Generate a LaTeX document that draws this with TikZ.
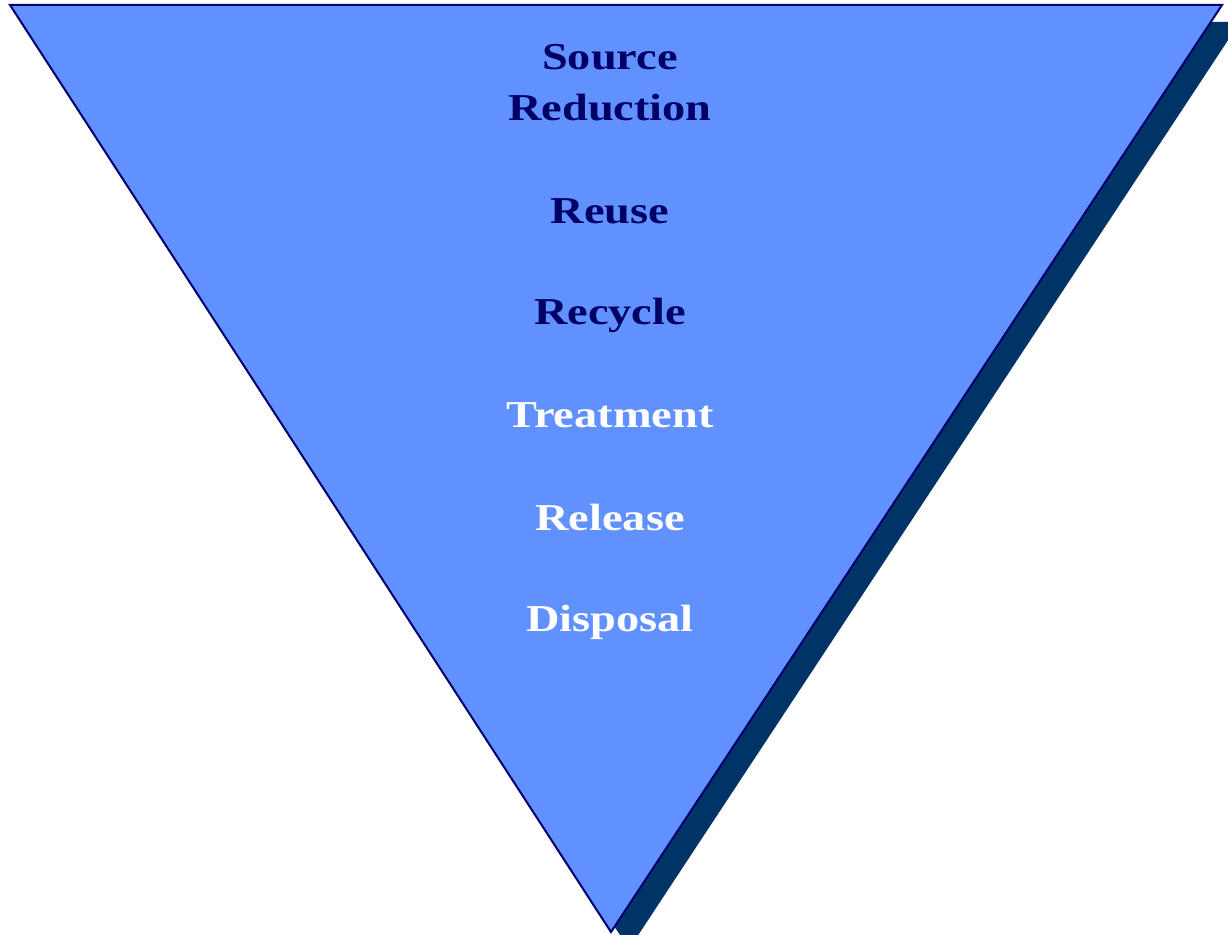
\documentclass[tikz,border=0pt]{standalone}
\usepackage{fontspec}
\setmainfont{Liberation Serif}[FakeStretch=1.22]
\definecolor{funnelfill}{RGB}{97,144,255}
\definecolor{funnelline}{RGB}{0,0,110}
\definecolor{shadowcol}{RGB}{0,51,102}
\definecolor{darktext}{RGB}{0,0,102}
\begin{document}
\begin{tikzpicture}[x=1pt,y=-1pt,
  lbl/.style={font=\fontsize{38}{51}\selectfont\bfseries, align=center, inner sep=0pt},
  darklbl/.style={lbl, text=darktext},
  lightlbl/.style={lbl, text=white}]
\useasboundingbox (0,0) rectangle (1228,934);
\coordinate (tl) at (10,5);
\coordinate (tr) at (1222,5);
\coordinate (bt) at (611,932);
% shadow
\fill[shadowcol] ([shift={(18,17)}]tl) -- ([shift={(18,17)}]tr) -- ([shift={(18,17)}]bt) -- cycle;
% funnel
\draw[fill=funnelfill, draw=funnelline, line width=2pt, line join=miter] (tl) -- (tr) -- (bt) -- cycle;
\node[darklbl] (src) at (610,83) {Source\\Reduction};
\node[darklbl] (reuse) at (610,211) {Reuse};
\node[darklbl] (recycle) at (610,315) {Recycle};
\node[lightlbl] (treat) at (610,415) {Treatment};
\node[lightlbl] (release) at (610,517) {Release};
\node[lightlbl] (disp) at (610,622) {Disposal};
\end{tikzpicture}
\end{document}
